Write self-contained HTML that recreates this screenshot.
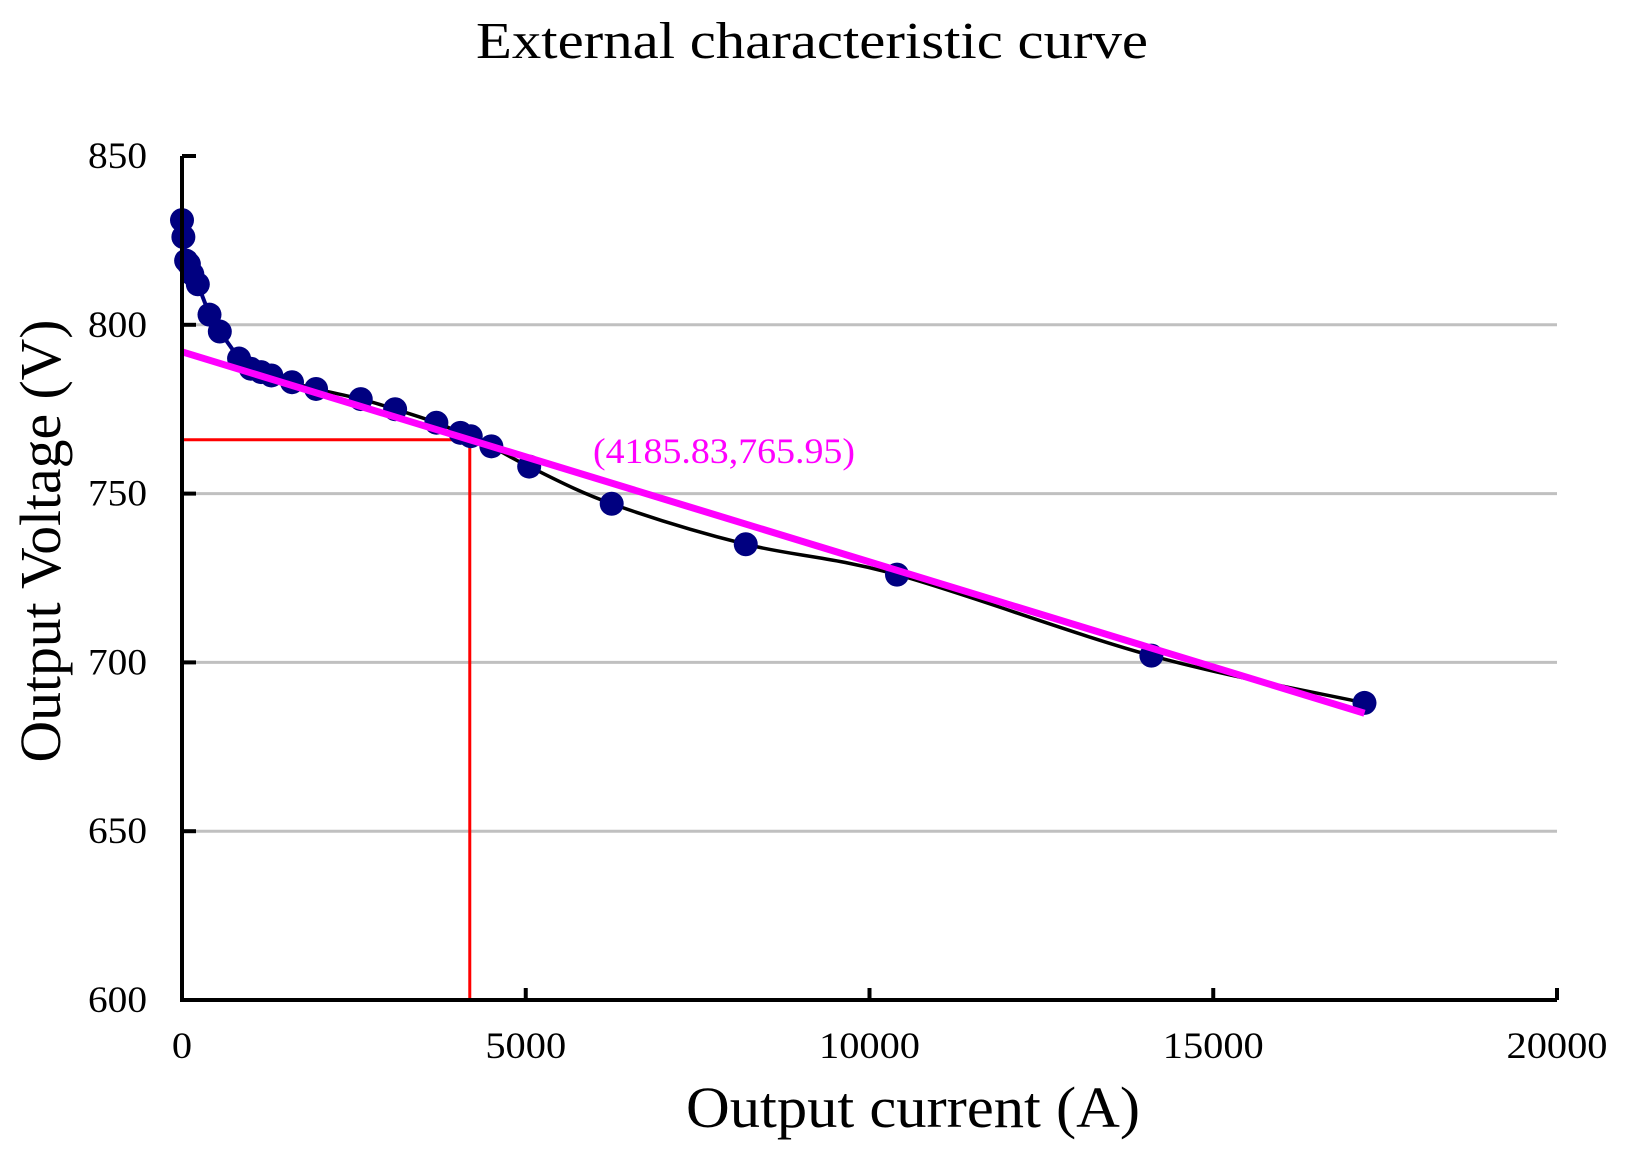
<!DOCTYPE html>
<html><head><meta charset="utf-8"><style>
html,body{margin:0;padding:0;background:#fff;}
svg{display:block;font-family:"Liberation Serif",serif;}
</style></head><body>
<svg id="chart" width="1639" height="1153" viewBox="0 0 1639 1153" xmlns="http://www.w3.org/2000/svg">
<rect width="1639" height="1153" fill="#fff"/>
<text x="812" y="58" text-anchor="middle" font-size="52" textLength="672" lengthAdjust="spacingAndGlyphs">External characteristic curve</text>
<text x="913" y="1127" text-anchor="middle" font-size="58" textLength="454" lengthAdjust="spacingAndGlyphs">Output current  (A)</text>
<text transform="translate(60,541) rotate(-90)" text-anchor="middle" font-size="58" textLength="443" lengthAdjust="spacingAndGlyphs">Output Voltage  (V)</text>
<g id="grid"></g>
<g id="marks"></g>
<g id="axes"></g>
</svg>
<script>
const xTicks = [0, 5000, 10000, 15000, 20000];
const yTicks = [600, 650, 700, 750, 800, 850];
const currents = [0, 20, 60, 100, 150, 230, 400, 550, 830, 1000, 1150, 1300, 1600, 1950, 2600, 3100, 3700, 4050, 4200, 4500, 5050, 6250, 8200, 10400, 14100, 17200];
const voltages = [831, 826, 819, 818, 815, 812, 803, 798, 790, 787, 786, 785, 783, 781, 778, 775, 771, 768, 767, 764, 758, 747, 735, 726, 702, 688];
const fitIntercept = [792];
const fitSlope = [-0.006224];
const fitRange = [0, 17200];
const markPoint = [4185.83, 765.95];
const markLabel = ["(4185.83,765.95)"];

const X0 = 182, X1 = 1557, Y0 = 1000, Y1 = 156;
const xs = v => X0 + (v - 0) / 20000 * (X1 - X0);
const ys = v => Y0 - (v - 600) / 250 * (Y0 - Y1);
const NS = "http://www.w3.org/2000/svg";
function mk(tag, parent, attrs){const e=document.createElementNS(NS,tag);for(const k in attrs)e.setAttribute(k,attrs[k]);parent.appendChild(e);return e;}
const grid=document.getElementById('grid'), marks=document.getElementById('marks'), axes=document.getElementById('axes');

yTicks.forEach(t=>{
  if(t>600 && t<850){
    const g=mk('line',grid,{x1:X0,x2:X1,y1:ys(t),y2:ys(t),stroke:'#c0c0c0','stroke-width':3});
    
    
  }
  const tk=mk('line',axes,{x1:X0,x2:X0+14,y1:ys(t),y2:ys(t),stroke:'#000','stroke-width':4});
  
  
  const lb=mk('text',axes,{x:147,y:ys(t)+12,'text-anchor':'end','font-size':37,textLength:59,lengthAdjust:'spacingAndGlyphs'});
  lb.textContent=t;
  
  
});
xTicks.forEach(t=>{
  const tk=mk('line',axes,{x1:xs(t),x2:xs(t),y1:Y0,y2:Y0-12,stroke:'#000','stroke-width':4});
  
  
  const s=String(t);
  const lb=mk('text',axes,{x:xs(t),y:1058,'text-anchor':'middle','font-size':37,textLength:s.length*20.2,lengthAdjust:'spacingAndGlyphs'});
  lb.textContent=s;
  
  
});
const ax=mk('path',axes,{d:`M${X0},${Y1} V${Y0} H${X1}`,fill:'none',stroke:'#000','stroke-width':4});



const rh=mk('line',marks,{x1:xs(0),x2:xs(markPoint[0]),y1:ys(markPoint[1]),y2:ys(markPoint[1]),stroke:'#ff0000','stroke-width':3});


const rv=mk('line',marks,{x1:xs(markPoint[0]),x2:xs(markPoint[0]),y1:ys(markPoint[1]),y2:Y0,stroke:'#ff0000','stroke-width':3});



const split=8;
let bd='';
for(let i=0;i<=split;i++){bd+=(i?'L':'M')+xs(currents[i])+','+ys(voltages[i]);}
const bl=mk('path',marks,{d:bd,fill:'none',stroke:'#000080','stroke-width':4});


const P=[];for(let i=split;i<currents.length;i++)P.push([xs(currents[i]),ys(voltages[i])]);
let cd='M'+P[0][0]+','+P[0][1];
for(let i=0;i<P.length-1;i++){
  const p0=P[Math.max(0,i-1)],p1=P[i],p2=P[i+1],p3=P[Math.min(P.length-1,i+2)];
  const c1=[p1[0]+(p2[0]-p0[0])/6,p1[1]+(p2[1]-p0[1])/6],c2=[p2[0]-(p3[0]-p1[0])/6,p2[1]-(p3[1]-p1[1])/6];
  cd+=`C${c1[0]},${c1[1]} ${c2[0]},${c2[1]} ${p2[0]},${p2[1]}`;
}
const cl=mk('path',marks,{d:cd,fill:'none',stroke:'#000','stroke-width':3.5});



currents.forEach((c,i)=>{
  const d=mk('circle',marks,{cx:xs(c),cy:ys(voltages[i]),r:12,fill:'#000080'});
  
  
});

const fl=mk('line',marks,{x1:xs(fitRange[0]),y1:ys(fitIntercept[0]+fitSlope[0]*fitRange[0]),x2:xs(fitRange[1]),y2:ys(fitIntercept[0]+fitSlope[0]*fitRange[1]),stroke:'#ff00ff','stroke-width':7});



const ml=mk('text',marks,{x:593,y:463,'font-size':36,fill:'#ff00ff',textLength:262,lengthAdjust:'spacingAndGlyphs'});
ml.textContent=markLabel[0];


</script>
</body></html>
